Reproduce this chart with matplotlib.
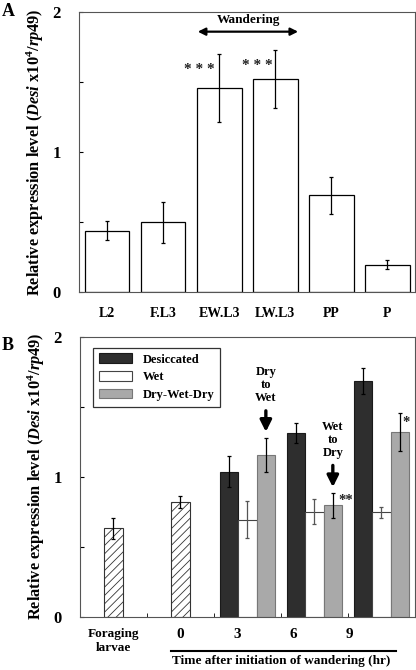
import matplotlib
matplotlib.use("Agg")
import matplotlib.pyplot as plt
import numpy as np

plt.rcParams['font.family'] = ['Liberation Serif', 'DejaVu Serif']
plt.rcParams['font.weight'] = 'bold'
plt.rcParams['axes.labelweight'] = 'bold'
plt.rcParams['mathtext.fontset'] = 'custom'
plt.rcParams['mathtext.rm'] = 'Liberation Serif:bold'
plt.rcParams['mathtext.it'] = 'Liberation Serif:italic:bold'
plt.rcParams['mathtext.bf'] = 'Liberation Serif:bold'
plt.rcParams['hatch.linewidth'] = 0.6

# panel A data
stages = ['L2', 'F.L3', 'EW.L3', 'LW.L3', 'PP', 'P']
stage_vals = [0.44, 0.50, 1.46, 1.52, 0.69, 0.195]
stage_err = [0.07, 0.147, 0.243, 0.206, 0.132, 0.032]

# panel B data
groups = ['Foraging\nlarvae', '0', '3', '6', '9']
pre_vals = [0.633, 0.82]
pre_err = [0.075, 0.043]
des_vals = [1.034, 1.314, 1.683]
des_err = [0.11, 0.072, 0.096]
wet_vals = [0.693, 0.751, 0.746]
wet_err = [0.13, 0.086, 0.04]
dwd_vals = [1.153, 0.794, 1.319]
dwd_err = [0.123, 0.088, 0.133]

ylab = r'Relative expression level ($\mathit{Desi}$ x10$^4$/$\mathit{rp49}$)'

fig = plt.figure(figsize=(4.16, 6.7), dpi=100)

# ---------- A ----------
ax = fig.add_axes([0.19, 0.564, 0.808, 0.418])
x = np.arange(len(stages))
ax.bar(x, stage_vals, width=0.8, color='white', edgecolor='black', linewidth=0.9,
       yerr=stage_err, error_kw=dict(ecolor='black', elinewidth=0.9, capsize=1.5, capthick=0.9))
ax.set_xlim(-0.5, 5.5)
ax.set_ylim(0, 2)
ax.set_xticks(x)
ax.set_xticklabels(stages, fontsize=10)
ax.tick_params(axis='x', length=0, pad=11)
ax.set_yticks([0, 0.5, 1, 1.5, 2])
ax.set_yticklabels(['0', '', '1', '', '2'], fontsize=12)
ax.tick_params(axis='y', direction='in', length=3, pad=13)
ax.set_ylabel(ylab, fontsize=11.8, labelpad=5)
for s in ax.spines.values():
    s.set_color('#555555')
for i, dx in [(2, -0.36), (3, -0.32)]:
    ax.text(i + dx, stage_vals[i] + stage_err[i] - 0.11, '* * *', ha='center', va='center',
            fontsize=11, color='#222222')
ax.annotate('', xy=(1.57, 1.86), xytext=(3.46, 1.86),
            arrowprops=dict(arrowstyle='<|-|>', color='black', lw=1.6, mutation_scale=11))
ax.text(2.52, 1.945, 'Wandering', ha='center', va='center', fontsize=9.5)
fig.text(0.005, 0.995, 'A', fontsize=13, ha='left', va='top')

# ---------- B ----------
bx = fig.add_axes([0.1923, 0.0796, 0.805, 0.418])
w = 0.275
ek = dict(ecolor='black', elinewidth=0.9, capsize=1.5, capthick=0.9)
bx.bar([0, 1], pre_vals, width=w, color='white', edgecolor='#333333', hatch='////',
       linewidth=0.8, yerr=pre_err, error_kw=ek)
g = np.arange(2, 5)
bx.bar(g - w, des_vals, width=w, color='#2e2e2e', edgecolor='#1a1a1a', linewidth=0.8,
       yerr=des_err, error_kw=ek, label='Desiccated')
bx.bar(g, wet_vals, width=w, color='white', edgecolor='#444444', linewidth=0.8,
       yerr=wet_err, error_kw=dict(ecolor='#555555', elinewidth=0.9, capsize=1.5, capthick=0.9),
       label='Wet')
bx.bar(g + w, dwd_vals, width=w, color='#a9a9a9', edgecolor='#777777', linewidth=0.8,
       yerr=dwd_err, error_kw=ek, label='Dry-Wet-Dry')
bx.set_xlim(-0.5, 4.5)
bx.set_ylim(0, 2)
bx.set_xticks([0, 0.99, 1.84, 2.68, 3.52])
bx.set_xticklabels(groups, fontsize=11)
bx.get_xticklabels()[0].set_fontsize(9.5)
bx.tick_params(axis='x', which='major', length=0, pad=8)
bx.set_xticks([0.5, 1.5, 2.5, 3.5], minor=True)
bx.tick_params(axis='x', which='minor', direction='in', length=3)
bx.set_yticks([0, 0.5, 1, 1.5, 2])
bx.set_yticklabels(['0', '', '1', '', '2'], fontsize=12)
bx.tick_params(axis='y', direction='in', length=3, pad=13)
bx.set_ylabel(ylab, fontsize=11.8, labelpad=5)
for s in bx.spines.values():
    s.set_color('#555555')
leg = bx.legend(loc='upper left', bbox_to_anchor=(0.039, 0.96), fontsize=9, frameon=True,
                fancybox=False, edgecolor='black', handlelength=2.7, handleheight=0.8,
                borderpad=0.45, labelspacing=0.45, handletextpad=0.8, borderaxespad=0)
leg.get_frame().set_linewidth(0.9)

bx.text(2 + w, 1.655, 'Dry\nto\nWet', ha='center', va='center', fontsize=9, linespacing=1.15)
bx.annotate('', xy=(2 + w, 1.30), xytext=(2 + w, 1.49),
            arrowprops=dict(arrowstyle='-|>', color='black', lw=2.4, mutation_scale=17))
bx.text(3 + w, 1.262, 'Wet\nto\nDry', ha='center', va='center', fontsize=9, linespacing=1.15)
bx.annotate('', xy=(3 + w, 0.905), xytext=(3 + w, 1.10),
            arrowprops=dict(arrowstyle='-|>', color='black', lw=2.4, mutation_scale=17))
bx.text(3.47, 0.83, '**', ha='center', va='center', fontsize=10.5, color='#222222')
bx.text(4.37, 1.39, '*', ha='center', va='center', fontsize=10.5, color='#222222')

bx.plot([0.858, 4.216], [-0.245, -0.245], color='black', lw=1.5, clip_on=False)
bx.text(2.5, -0.275, 'Time after initiation of wandering (hr)', ha='center', va='top',
        fontsize=9.5)
fig.text(0.005, 0.497, 'B', fontsize=13, ha='left', va='top')

fig.savefig('out.png', dpi=100)
